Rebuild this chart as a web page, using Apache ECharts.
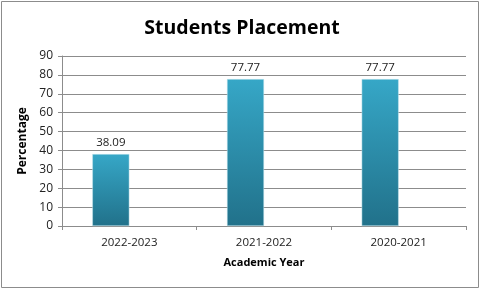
<!DOCTYPE html>
<html><head><meta charset="utf-8">
<script src="https://cdn.jsdelivr.net/npm/echarts@6/dist/echarts.min.js"></script>
<style>html,body{margin:0;padding:0;background:#fff}#c{width:484px;height:292px}</style>
</head><body><div id="c"></div>
<script>
const categories = ["2022-2023", "2021-2022", "2020-2021"];
const placement = [38.09, 77.77, 77.77];
const emptySeries = [null, null, null];
const yTicks = [0, 90, 10];

const chart = echarts.init(document.getElementById('c'), null, {renderer: 'canvas'});
const font = "'Open Sans', 'Liberation Sans', sans-serif";
chart.setOption({
  animation: false,
  backgroundColor: '#fff',
  title: {
    text: 'Students Placement', left: 'center', top: 13,
    textStyle: {fontFamily: font, fontSize: 19.5, fontWeight: 'bold', color: '#000'}
  },
  graphic: [{type: 'rect', shape: {x: 1.5, y: 1.5, width: 477, height: 286},
    style: {fill: 'none', stroke: '#8c8c8c', lineWidth: 1}, silent: true}],
  grid: {left: 62, right: 18, top: 56, bottom: 66, containLabel: false},
  xAxis: {
    type: 'category', data: categories,
    name: 'Academic Year', nameLocation: 'middle', nameGap: 31,
    nameTextStyle: {fontFamily: font, fontSize: 11, fontWeight: 'bold', color: '#000'},
    axisLine: {lineStyle: {color: '#8c8c8c'}},
    axisTick: {show: true, alignWithLabel: false, length: 4, lineStyle: {color: '#8c8c8c'}},
    axisLabel: {fontFamily: font, fontSize: 11.5, color: '#222', margin: 11}
  },
  yAxis: {
    type: 'value', min: yTicks[0], max: yTicks[1], interval: yTicks[2],
    name: 'Percentage', nameLocation: 'middle', nameGap: 27, nameRotate: 90,
    nameTextStyle: {fontFamily: font, fontSize: 12, fontWeight: 'bold', color: '#000'},
    axisLine: {show: true, lineStyle: {color: '#8c8c8c'}},
    axisTick: {show: true, length: 4, lineStyle: {color: '#8c8c8c'}},
    axisLabel: {fontFamily: font, fontSize: 12, color: '#222', margin: 9},
    splitLine: {lineStyle: {color: '#8c8c8c', width: 1}}
  },
  series: [{
    type: 'bar', data: placement, barWidth: 37, barGap: '0%',
    itemStyle: {
      color: new echarts.graphic.LinearGradient(0, 0, 0, 1, [
        {offset: 0, color: '#36a7c7'}, {offset: 1, color: '#21718a'}]),
      borderColor: '#c6e6ee', borderWidth: 0.5
    },
    label: {show: true, position: 'top', distance: 5, fontFamily: font, fontSize: 11.5, color: '#222',
      formatter: p => p.value.toFixed(2)}
  }, {
    type: 'bar', data: emptySeries, barWidth: 37, barGap: '0%'
  }]
});
</script></body></html>
